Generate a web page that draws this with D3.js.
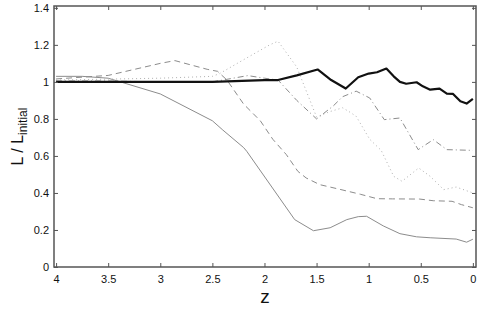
<!DOCTYPE html>
<html>
<head>
<meta charset="utf-8">
<script src="https://cdn.jsdelivr.net/npm/d3@7"></script>
<style>
  body { margin: 0; background: #fff; }
  text { font-family: "Liberation Sans", Arial, sans-serif; }
</style>
</head>
<body>
<div id="chart"></div>
<script>
// values
const xTicks = [4, 3.5, 3, 2.5, 2, 1.5, 1, 0.5, 0];
const yTicks = [0, 0.2, 0.4, 0.6, 0.8, 1, 1.2, 1.4];

const zThick = [4, 3.5, 3, 2.5, 2.0, 1.87, 1.69, 1.49, 1.36, 1.22, 1.10, 1.0, 0.92, 0.83, 0.76, 0.70, 0.64, 0.54, 0.48, 0.41, 0.32, 0.25, 0.19, 0.12, 0.06, 0.0];
const vThick = [1.0, 1.0, 1.0, 1.0, 1.01, 1.01, 1.035, 1.067, 1.01, 0.964, 1.025, 1.045, 1.052, 1.072, 1.03, 1.0, 0.99, 0.998, 0.976, 0.958, 0.964, 0.937, 0.935, 0.895, 0.883, 0.908];

const zSolid = [4, 3.75, 3.5, 3.0, 2.5, 2.4, 2.2, 2.17, 1.71, 1.53, 1.37, 1.21, 1.1, 1.02, 0.86, 0.7, 0.54, 0.41, 0.16, 0.06, 0.0];
const vSolid = [1.03, 1.03, 1.02, 0.935, 0.79, 0.74, 0.645, 0.625, 0.256, 0.196, 0.212, 0.256, 0.272, 0.274, 0.222, 0.18, 0.163, 0.158, 0.151, 0.134, 0.15];

const zDashed = [4, 3.5, 3.0, 2.86, 2.55, 2.45, 2.36, 2.2, 2.04, 1.92, 1.79, 1.68, 1.6, 1.47, 1.28, 1.08, 0.92, 0.77, 0.51, 0.38, 0.2, 0.11, 0.0];
const vDashed = [1.016, 1.035, 1.10, 1.115, 1.068, 1.057, 1.01, 0.88, 0.79, 0.69, 0.607, 0.517, 0.481, 0.445, 0.42, 0.393, 0.369, 0.368, 0.367, 0.358, 0.355, 0.337, 0.32];

const zDotted = [4, 3.5, 3.0, 2.5, 2.43, 2.2, 1.95, 1.87, 1.69, 1.5, 1.37, 1.25, 1.19, 1.12, 0.99, 0.88, 0.76, 0.68, 0.52, 0.41, 0.28, 0.16, 0.0];
const vDotted = [1.01, 1.015, 1.02, 1.03, 1.045, 1.12, 1.2, 1.22, 1.08, 0.81, 0.84, 0.86, 0.84, 0.814, 0.69, 0.63, 0.49, 0.463, 0.535, 0.49, 0.418, 0.432, 0.40];

const zDashDot = [4, 3.5, 3.0, 2.5, 2.16, 2.0, 1.87, 1.69, 1.5, 1.34, 1.25, 1.12, 0.99, 0.85, 0.70, 0.525, 0.38, 0.25, 0.0];
const vDashDot = [1.005, 1.005, 1.0, 1.0, 1.034, 1.02, 1.01, 0.9, 0.80, 0.87, 0.92, 0.95, 0.913, 0.796, 0.805, 0.634, 0.688, 0.634, 0.63];

const series = [
  { z: zSolid, v: vSolid, color: "#8c8c8c", width: 1, dash: null },
  { z: zDashed, v: vDashed, color: "#8c8c8c", width: 1, dash: "6,4" },
  { z: zDotted, v: vDotted, color: "#b0b0b0", width: 1, dash: "1,3" },
  { z: zDashDot, v: vDashDot, color: "#8c8c8c", width: 1, dash: "6,3,1,3" },
  { z: zThick, v: vThick, color: "#111", width: 2.2, dash: null }
];

const width = 480, height = 312;
const plotLeft = 54, plotRight = 476, plotTop = 6, plotBottom = 267;

const svg = d3.select("#chart").append("svg")
  .attr("width", width)
  .attr("height", height);

const x = d3.scaleLinear().domain([4.02, -0.03]).range([plotLeft, plotRight]);
const y = d3.scaleLinear().domain([0, 1.41]).range([plotBottom, plotTop]);

// lines
const line = d3.line()
  .x(d => x(d[0]))
  .y(d => y(d[1]));

series.forEach(s => {
  svg.append("path")
    .datum(s.z.map((z, i) => [z, s.v[i]]))
    .attr("d", line)
    .attr("fill", "none")
    .attr("stroke", s.color)
    .attr("stroke-width", s.width)
    .attr("stroke-dasharray", s.dash)
    .attr("stroke-linejoin", "round");
});

// axes, ticks pointing inwards on all four sides
const frameColor = "#555";
const axisBottom = svg.append("g")
  .attr("transform", `translate(0,${plotBottom})`)
  .call(d3.axisBottom(x).tickValues(xTicks).tickSize(-4).tickPadding(8).tickFormat(d3.format("")));
const axisTop = svg.append("g")
  .attr("transform", `translate(0,${plotTop})`)
  .call(d3.axisTop(x).tickValues(xTicks).tickSize(-4).tickFormat(""));
const axisLeft = svg.append("g")
  .attr("transform", `translate(${plotLeft},0)`)
  .call(d3.axisLeft(y).tickValues(yTicks).tickSize(-4).tickPadding(5).tickFormat(d3.format("")));
const axisRight = svg.append("g")
  .attr("transform", `translate(${plotRight},0)`)
  .call(d3.axisRight(y).tickValues(yTicks).tickSize(-4).tickFormat(""));

[axisBottom, axisTop, axisLeft, axisRight].forEach(a => {
  a.select(".domain").remove();
  a.selectAll(".tick line").attr("stroke", frameColor).attr("stroke-width", 1);
  a.selectAll(".tick text").attr("fill", "#111").style("font-size", "11px");
});

svg.append("rect")
  .attr("x", plotLeft)
  .attr("y", plotTop)
  .attr("width", plotRight - plotLeft)
  .attr("height", plotBottom - plotTop)
  .attr("fill", "none")
  .attr("stroke", frameColor)
  .attr("stroke-width", 1.5);

// axis labels
svg.append("text")
  .attr("x", (plotLeft + plotRight) / 2)
  .attr("y", 303)
  .attr("text-anchor", "middle")
  .style("font-size", "19px")
  .attr("fill", "#111")
  .text("z");

const yLabel = svg.append("text")
  .attr("transform", `translate(23,${(plotTop + plotBottom) / 2}) rotate(-90)`)
  .attr("text-anchor", "middle")
  .style("font-size", "16px")
  .attr("fill", "#111");
yLabel.append("tspan").text("L / L");
yLabel.append("tspan")
  .attr("dy", 4)
  .style("font-size", "12px")
  .text("initial");
</script>
</body>
</html>
